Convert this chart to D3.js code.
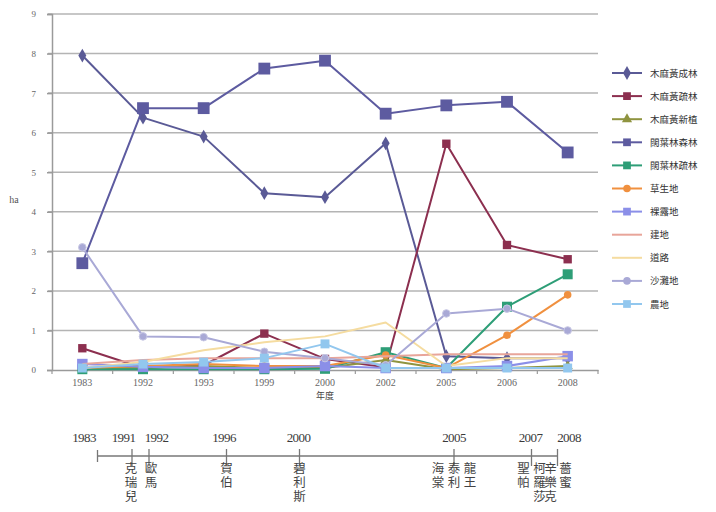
<!DOCTYPE html>
<html><head><meta charset="utf-8">
<script src="https://cdn.jsdelivr.net/npm/d3@7"></script>
<style>body{margin:0;background:#fff}svg{display:block}</style>
</head><body><svg id="c" width="716" height="512"></svg>
<script>
const years = ["1983","1992","1993","1999","2000","2002","2005","2006","2008"];
const seriesNames = ["木麻黃成林","木麻黃疏林","木麻黃新植","闊葉林森林","闊葉林疏林","草生地","裸露地","建地","道路","沙灘地","農地"];
const s1 = [7.95,6.38,5.9,4.47,4.37,5.73,0.35,0.3,0.3];
const s2 = [0.55,0.05,0.12,0.92,0.28,0.07,5.72,3.16,2.8];
const s3 = [0.05,0.05,0.1,0.05,0.05,0.25,0.02,0.05,0.1];
const s4 = [2.7,6.62,6.62,7.62,7.82,6.48,6.69,6.78,5.5];
const s5 = [0.02,0.02,0.02,0.02,0.03,0.45,0.05,1.6,2.42];
const s6 = [0.05,0.1,0.15,0.1,0.1,0.38,0.05,0.88,1.9];
const s7 = [0.15,0.08,0.05,0.05,0.1,0.05,0.05,0.1,0.35];
const s8 = [0.15,0.25,0.3,0.3,0.3,0.35,0.4,0.4,0.4];
const s9 = [0.05,0.2,0.5,0.7,0.85,1.2,0.1,0.3,0.3];
const s10 = [3.1,0.85,0.83,0.46,0.3,0.12,1.43,1.55,1.0];
const s11 = [0.05,0.15,0.2,0.3,0.66,0.05,0.05,0.05,0.05];
const yTicks = [0,1,2,3,4,5,6,7,8,9];
const tlYears = [1983,1991,1992,1996,2000,2005,2007,2008];
const tlNames = ["克瑞兒","歐馬","賀伯","碧利斯","海棠","泰利","龍王","聖帕","柯羅莎","辛樂克","薔蜜"];
const tlNameYear = [1991,1992,1996,2000,2005,2005,2005,2007,2007,2008,2008];

const allSeries = [s1,s2,s3,s4,s5,s6,s7,s8,s9,s10,s11];
const colors = ["#5a5a96","#8c2f4f","#8f9440","#5d5ba0","#2e9e77","#f0903f","#8b8fe8","#e8a59a","#f5dca0","#a9a9d6","#92c7ee"];
const markers = ["diamond","square","triangle","square","square","circle","square","none","none","circle","square"];
const msize = [55,70,45,140,100,45,110,0,0,45,80];

const svg = d3.select("#c");
const L=52, R=598, T=14, B=370;
const x = d3.scaleBand().domain(years).range([L,R]);
const y = d3.scaleLinear().domain([0,9]).range([B,T]);
const serif = "'Liberation Serif','Times New Roman',serif";
const cjk = "'Noto Sans CJK TC','Noto Sans CJK SC',sans-serif";

svg.append("g").selectAll("line").data(yTicks.filter(d=>d>0)).join("line")
  .attr("x1",L-4).attr("x2",R).attr("y1",d=>y(d)).attr("y2",d=>y(d))
  .attr("stroke","#b4b4b4").attr("stroke-width",1.5);

const ya = svg.append("g").attr("transform",`translate(${L},0)`)
  .call(d3.axisLeft(y).tickValues(yTicks).tickSize(5).tickPadding(11));
ya.select(".domain").attr("stroke","#9a9a9a").attr("stroke-width",1.5);
ya.selectAll(".tick line").attr("stroke","#9a9a9a").attr("stroke-width",1.5);
ya.selectAll("text").attr("font-family",serif).attr("font-size",9).attr("fill","#666");

const xa = svg.append("g").attr("transform",`translate(0,${B})`)
  .call(d3.axisBottom(x).tickSize(0).tickPadding(9));
xa.select(".domain").attr("stroke","#9a9a9a").attr("stroke-width",1.5);
xa.selectAll("text").attr("font-family",serif).attr("font-size",10).attr("fill","#666");
svg.append("g").selectAll("line").data(d3.range(years.length+1)).join("line")
  .attr("x1",i=>L+i*x.bandwidth()).attr("x2",i=>L+i*x.bandwidth())
  .attr("y1",B).attr("y2",B+4).attr("stroke","#9a9a9a").attr("stroke-width",1.2);

svg.append("text").attr("x",14).attr("y",203).attr("text-anchor","middle")
  .attr("font-family",serif).attr("font-size",10).attr("fill","#555").text("ha");
svg.append("text").attr("x",325).attr("y",399).attr("text-anchor","middle")
  .attr("font-family",cjk).attr("font-size",9).attr("fill","#444").text("年度");

const line = d3.line().x((d,i)=>x(years[i])+x.bandwidth()/2).y(d=>y(d));
const symType = {diamond:d3.symbolDiamond,square:d3.symbolSquare,triangle:d3.symbolTriangle,circle:d3.symbolCircle};
allSeries.forEach((s,k)=>{
  const g = svg.append("g");
  g.append("path").datum(s).attr("d",line).attr("fill","none")
    .attr("stroke",colors[k]).attr("stroke-width",2).attr("stroke-linejoin","round");
  if(markers[k]!=="none"){
    g.selectAll("path.m").data(s).join("path").attr("class","m")
      .attr("transform",(d,i)=>`translate(${x(years[i])+x.bandwidth()/2},${y(d)})`)
      .attr("d",d3.symbol().type(symType[markers[k]]).size(msize[k]))
      .attr("fill",colors[k]).attr("stroke",k===9?"#c8c8e4":"none");
  }
});

const lg = svg.append("g");
seriesNames.forEach((n,k)=>{
  const yy = 73 + k*23.1;
  lg.append("line").attr("x1",612).attr("x2",642).attr("y1",yy).attr("y2",yy)
    .attr("stroke",colors[k]).attr("stroke-width",2);
  if(markers[k]!=="none"){
    lg.append("path").attr("transform",`translate(627,${yy})`)
      .attr("d",d3.symbol().type(symType[markers[k]]).size(Math.min(msize[k],60)))
      .attr("fill",colors[k]);
  }
  lg.append("text").attr("x",650).attr("y",yy+3.5).attr("font-family",cjk)
    .attr("font-size",9.5).attr("fill","#333").text(n);
});

const tx = d3.scaleOrdinal().domain(tlYears).range([97.5,132,149,226.5,299.5,454,531.5,557.5]);
const tl = svg.append("g");
tl.append("line").attr("x1",tx(1983)).attr("x2",tx(2008)).attr("y1",456).attr("y2",456)
  .attr("stroke","#777").attr("stroke-width",1.3);
tl.selectAll("line.t").data(tlYears).join("line").attr("class","t")
  .attr("x1",d=>tx(d)).attr("x2",d=>tx(d))
  .attr("y1",d=>d===1983?450:449).attr("y2",d=>d===1983?462:466)
  .attr("stroke","#777").attr("stroke-width",1.3);
const labelX = {1983:84,1991:123.5,1992:156.5,1996:224,2000:298.5,2005:454,2007:530.5,2008:569};
tl.selectAll("text.y").data(tlYears).join("text").attr("class","y")
  .attr("x",d=>labelX[d]).attr("y",442).attr("text-anchor","middle")
  .attr("font-family",serif).attr("font-size",13).attr("letter-spacing",-0.6).attr("fill","#3a3a3a")
  .text(d=>d);
const colOffsets = {1991:[-1],1992:[2],1996:[0],2000:[0],2005:[-16,0,16],2007:[-8,8],2008:[-7,8]};
const colIdx = {};
tlNames.forEach((name,i)=>{
  const yr = tlNameYear[i];
  colIdx[yr] = (colIdx[yr]||0);
  const cx = tx(yr) + colOffsets[yr][colIdx[yr]];
  colIdx[yr]++;
  tl.append("text").attr("x",cx).attr("y",462)
    .attr("writing-mode","vertical-rl").attr("style","writing-mode:vertical-rl;text-orientation:upright")
    .attr("letter-spacing",1.5)
    .attr("font-family",cjk).attr("font-size",12.5).attr("fill","#444").text(name);
});
</script></body></html>
